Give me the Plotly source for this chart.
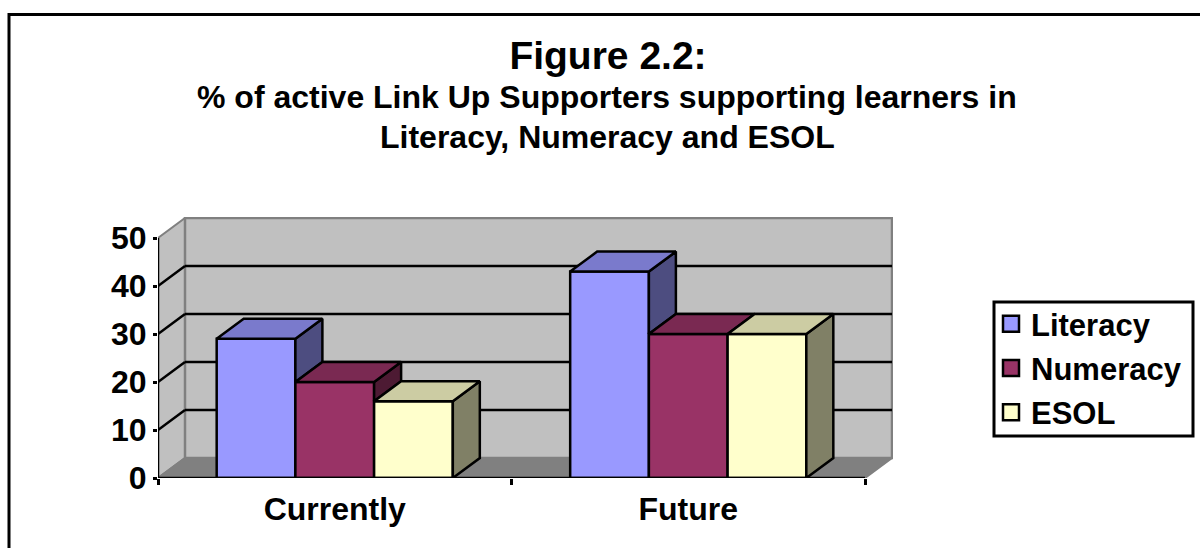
import plotly.graph_objects as go

categories = ["Currently", "Future"]
series_names = ["Literacy", "Numeracy", "ESOL"]
literacy = [29, 43]
numeracy = [20, 30]
esol = [16, 30]
y_ticks = [0, 10, 20, 30, 40, 50]

series_values = [literacy, numeracy, esol]
front = ["#9999FF", "#993366", "#FFFFCC"]
top = ["#7A7ACC", "#7A2952", "#CCCCA3"]
side = ["#4D4D80", "#4D1A33", "#808066"]
FONT = "Liberation Sans, Arial, sans-serif"
LW = 2.5

# plot-area geometry (pixels)
L, R, T, B = 158, 893, 217, 478
PX_CAT = 353.5
PX_VAL = 4.8
DX = 27 / PX_CAT          # depth of the 3-D box, in x units
DY = 20 / PX_VAL          # depth of the 3-D box, in y units
GAP = 0.332
x0 = -0.5
x_front_end = 1.5
xmax = x0 + (R - L) / PX_CAT
ymax = (B - T) / PX_VAL
ymax_axis = y_ticks[-1]
bw = (1 - GAP) / len(series_names)


def px(x):
    return (x - L) / (R - L)


def py(y):
    return (B - y) / (B - T)


fig = go.Figure()

# bars (front faces)
for i, name in enumerate(series_names):
    fig.add_trace(go.Bar(x=list(range(len(categories))), y=series_values[i], name=name,
                         marker=dict(color=front[i], line=dict(color="black", width=LW)),
                         showlegend=False))


def poly(xs, ys, color):
    fig.add_trace(go.Scatter(x=xs + xs[:1], y=ys + ys[:1], mode="lines", fill="toself",
                             fillcolor=color, line=dict(color="black", width=LW),
                             hoverinfo="skip", showlegend=False, cliponaxis=False))


# visible top and side faces, computed from the values
for c in range(len(categories)):
    for i in range(len(series_names)):
        v = series_values[i][c]
        left = c - (1 - GAP) / 2 + i * bw
        right = left + bw
        nxt = series_values[i + 1][c] if i + 1 < len(series_names) else 0
        if nxt < v:
            poly([right, right + DX, right + DX, right], [v, v + DY, nxt + DY, nxt], side[i])
        poly([left, left + DX, right + DX, right], [v, v + DY, v + DY, v], top[i])

# axis lines on the front plane
fig.add_trace(go.Scatter(x=[x0, x0, x_front_end], y=[ymax_axis, 0, 0], mode="lines",
                         line=dict(color="black", width=LW), hoverinfo="skip",
                         showlegend=False, cliponaxis=False))

# legend entries
for i, name in enumerate(series_names):
    fig.add_trace(go.Scatter(x=[None], y=[None], mode="markers", name=name, legendgroup=name,
                             marker=dict(symbol="square", size=20, color=front[i],
                                         line=dict(color="black", width=2.5))))

shapes = []
GREY = "#808080"
WALL = "#C0C0C0"
top_back = ymax_axis + DY
# side wall
shapes.append(dict(type="path", layer="below", xref="x", yref="y",
                   path=f"M{x0},0 L{x0 + DX},{DY} L{x0 + DX},{top_back} L{x0},{ymax_axis} Z",
                   fillcolor=WALL, line=dict(color=GREY, width=2)))
# back wall
shapes.append(dict(type="rect", layer="below", xref="x", yref="y",
                   x0=x0 + DX, x1=x_front_end + DX, y0=DY, y1=top_back,
                   fillcolor=WALL, line=dict(color=GREY, width=2.5)))
# floor
shapes.append(dict(type="path", layer="below", xref="x", yref="y",
                   path=f"M{x0},0 L{x0 + DX},{DY} L{x_front_end + DX},{DY} L{x_front_end},0 Z",
                   fillcolor=GREY, line=dict(color=GREY, width=2)))
# gridlines wrap the side wall and the back wall
for t in y_ticks[1:-1]:
    shapes.append(dict(type="line", layer="below", xref="x", yref="y",
                       x0=x0, x1=x0 + DX, y0=t, y1=t + DY, line=dict(color="black", width=LW)))
    shapes.append(dict(type="line", layer="below", xref="x", yref="y",
                       x0=x0 + DX, x1=x_front_end + DX, y0=t + DY, y1=t + DY,
                       line=dict(color="black", width=LW)))
# outer chart border (right and bottom edges lie past the window)
shapes.append(dict(type="rect", layer="above", xref="paper", yref="paper",
                   x0=px(9), x1=px(1210), y0=py(560), y1=py(14.5),
                   fillcolor="rgba(0,0,0,0)", line=dict(color="black", width=3)))
# legend frame
shapes.append(dict(type="rect", layer="above", xref="paper", yref="paper",
                   x0=px(994), x1=px(1193), y0=py(436), y1=py(302),
                   fillcolor="rgba(0,0,0,0)", line=dict(color="black", width=3)))

fig.update_layout(
    width=1200, height=548, autosize=False,
    margin=dict(l=L, r=1200 - R, t=T, b=548 - B),
    paper_bgcolor="white", plot_bgcolor="rgba(0,0,0,0)",
    barmode="group", bargap=GAP, bargroupgap=0,
    font=dict(family=FONT, color="black"),
    shapes=shapes,
    xaxis=dict(range=[x0, xmax], tickmode="array", tickvals=[0, 1], ticktext=categories,
               showgrid=False, zeroline=False, showline=False, ticks="", ticklabelstandoff=9,
               tickfont=dict(size=32, family=FONT, weight="bold"),
               minor=dict(tickmode="array", tickvals=[-0.5, 0.5, 1.5], ticks="outside",
                          ticklen=6, tickwidth=2.5, tickcolor="black", showgrid=False)),
    yaxis=dict(range=[0, ymax], tickmode="array", tickvals=y_ticks,
               showgrid=False, zeroline=False, showline=False,
               ticks="outside", ticklen=4, tickwidth=2.5, tickcolor="black",
               tickfont=dict(size=32, family=FONT, weight="bold")),
    legend=dict(xref="container", yref="container", x=991 / 1200, y=1 - 297 / 548,
                xanchor="left", yanchor="top", borderwidth=0, bgcolor="rgba(0,0,0,0)",
                font=dict(size=31, family=FONT, weight="bold"),
                itemsizing="trace", itemwidth=30, tracegroupgap=1),
    title=dict(text="<b>Figure 2.2:</b>", x=608 / 1200, xanchor="center", y=1 - 55 / 548,
               yanchor="middle", font=dict(size=39, family=FONT)),
    annotations=[
        dict(text="<b>% of active Link Up Supporters supporting learners in</b>",
             xref="paper", yref="paper", x=px(607), y=py(97), yanchor="middle", xanchor="center",
             showarrow=False, font=dict(size=32, family=FONT)),
        dict(text="<b>Literacy, Numeracy and ESOL</b>",
             xref="paper", yref="paper", x=px(607), y=py(137), yanchor="middle", xanchor="center",
             showarrow=False, font=dict(size=32, family=FONT)),
    ],
)

fig.write_html("out.html", config=dict(displayModeBar=False),
               post_script="document.body.style.margin='0';document.body.style.overflow='hidden';")
